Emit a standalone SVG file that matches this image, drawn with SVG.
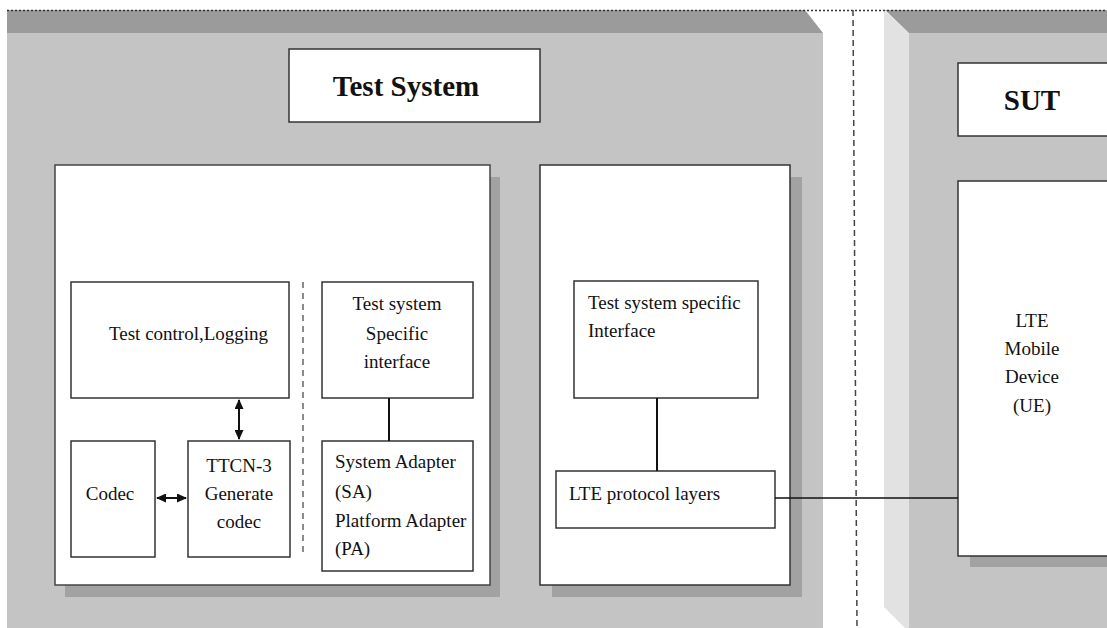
<svg xmlns="http://www.w3.org/2000/svg" width="1107" height="628" viewBox="0 0 1107 628">
<style>
.panel{fill:#c4c4c4}
.band{fill:#9b9b9b}
.shadow{fill:#a2a2a2}
.box{fill:#fff;stroke:#333;stroke-width:1.5}
.big{fill:#fff;stroke:#444;stroke-width:1.5}
.t{font-family:"Liberation Serif","Times New Roman",serif;fill:#111;font-size:19px}
.c{text-anchor:middle}
.b{font-weight:bold;font-size:29px}
.line{stroke:#111;stroke-width:2;fill:none}
</style>
<defs>
<marker id="ah" viewBox="0 0 10 10" refX="9" refY="5" markerWidth="5" markerHeight="4.5" orient="auto-start-reverse" markerUnits="strokeWidth" preserveAspectRatio="none">
<path d="M0,0 L10,5 L0,10 z" fill="#111"/>
</marker>
</defs>
<rect x="0" y="0" width="1107" height="628" fill="#fff"/>
<g id="left-panel">
<rect class="panel" x="7" y="33" width="816" height="595"/>
<polygon class="band" points="7,10 805,10 823,33 7,33"/>
</g>
<g id="right-panel">
<polygon fill="#e2e2e2" points="884,10 909,33 909,628 905,628 884,607"/>
<polygon class="band" points="885,10 1107,10 1107,33 909,33"/>
<rect class="panel" x="909" y="33" width="198" height="595"/>
</g>
<line x1="7" y1="10.5" x2="1107" y2="10.5" stroke="#333" stroke-width="1.5" stroke-dasharray="2 2"/>
<line x1="853" y1="10" x2="857" y2="628" stroke="#444" stroke-width="1.5" stroke-dasharray="6 4"/>

<g id="test-system-title">
<rect class="box" x="289" y="49" width="251" height="73"/>
<text class="t c b" x="406" y="96">Test System</text>
</g>
<g id="sut-title">
<rect class="box" x="958" y="63" width="160" height="73"/>
<text class="t c b" x="1032" y="110">SUT</text>
</g>

<g id="test-system-main">
<rect class="shadow" x="65" y="177" width="435" height="420"/>
<rect class="big" x="55" y="165" width="435" height="420"/>
<line x1="303" y1="282" x2="303" y2="556" stroke="#666" stroke-width="1.5" stroke-dasharray="6 5"/>
</g>
<g id="test-system-side">
<rect class="shadow" x="552" y="177" width="250" height="420"/>
<rect class="box" x="540" y="165" width="250" height="420"/>
</g>
<g id="ue">
<rect class="shadow" x="970" y="192" width="150" height="375"/>
<rect class="box" x="958" y="181" width="160" height="375"/>
<text class="t c" x="1032" y="327" font-size="18">LTE</text>
<text class="t c" x="1032" y="355" font-size="18">Mobile</text>
<text class="t c" x="1032" y="383" font-size="18">Device</text>
<text class="t c" x="1032" y="412" font-size="18">(UE)</text>
</g>

<g id="test-control">
<rect class="box" x="71" y="282" width="218" height="116"/>
<text class="t" x="109" y="340">Test control,Logging</text>
</g>
<g id="ts-specific-interface">
<rect class="box" x="322" y="282" width="151" height="116"/>
<text class="t c" x="397" y="310">Test system</text>
<text class="t c" x="397" y="340">Specific</text>
<text class="t c" x="397" y="368">interface</text>
</g>
<g id="codec">
<rect class="box" x="71" y="441" width="84" height="116"/>
<text class="t c" x="110" y="500">Codec</text>
</g>
<g id="ttcn3">
<rect class="box" x="188" y="441" width="102" height="116"/>
<text class="t c" x="239" y="472">TTCN-3</text>
<text class="t c" x="239" y="500">Generate</text>
<text class="t c" x="239" y="528">codec</text>
</g>
<g id="adapters">
<rect class="box" x="322" y="441" width="151" height="130"/>
<text class="t" x="335" y="468" font-size="17">System Adapter</text>
<text class="t" x="335" y="498" font-size="17">(SA)</text>
<text class="t" x="335" y="527" font-size="17">Platform Adapter</text>
<text class="t" x="335" y="555" font-size="17">(PA)</text>
</g>
<g id="ts-specific-interface-2">
<rect class="box" x="574" y="281" width="184" height="117"/>
<text class="t" x="588" y="309" font-size="16.5">Test system specific</text>
<text class="t" x="588" y="337" font-size="16.5">Interface</text>
</g>
<g id="lte-protocol">
<rect class="box" x="556" y="471" width="219" height="57"/>
<text class="t" x="569" y="500">LTE protocol layers</text>
</g>

<g id="connectors">
<line class="line" x1="239" y1="400" x2="239" y2="439" marker-start="url(#ah)" marker-end="url(#ah)"/>
<line class="line" x1="157" y1="498" x2="186" y2="498" marker-start="url(#ah)" marker-end="url(#ah)"/>
<line class="line" x1="389" y1="398" x2="389" y2="441"/>
<line class="line" x1="657" y1="398" x2="657" y2="471"/>
<line x1="775" y1="498" x2="958" y2="498" stroke="#111" stroke-width="1.5"/>
</g>
</svg>
